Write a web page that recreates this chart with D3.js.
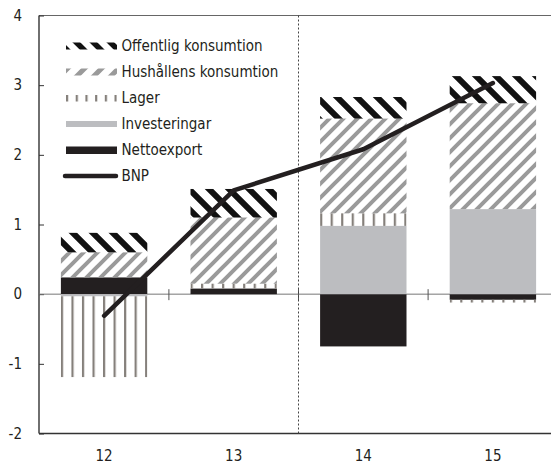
<!DOCTYPE html>
<html><head><meta charset="utf-8">
<script src="https://cdn.jsdelivr.net/npm/d3@7"></script>
<style>
html,body{margin:0;padding:0;background:#fff;}
svg{display:block;}
text{font-family:"Liberation Sans Narrow","DejaVu Sans Condensed","Arial Narrow",sans-serif;fill:#231f20;}
</style></head>
<body>
<script>
const categories = ["12","13","14","15"];
const nettoexport   = [0.24, 0.08, -0.75, -0.08];
const investeringar = [-0.03, 0.0, 0.98, 1.22];
const lager         = [-1.16, 0.07, 0.18, -0.04];
const hushallens    = [0.36, 0.95, 1.36, 1.52];
const offentlig     = [0.28, 0.41, 0.31, 0.39];
const bnp           = [-0.31, 1.49, 2.08, 3.03];
const yTicks = [-2,-1,0,1,2,3,4];
const legendLabels = ["Offentlig konsumtion","Hushållens konsumtion","Lager","Investeringar","Nettoexport","BNP"];

const W = 551, H = 464;
const svg = d3.select("body").append("svg").attr("width", W).attr("height", H);
const defs = svg.append("defs");

const x = d3.scaleBand().domain(categories).range([39.3, 557.7]).paddingInner(1/3).paddingOuter(1/6);
const y = d3.scaleLinear().domain([-2, 4]).range([433.5, 15.5]);
const bw = x.bandwidth();

// patterns
function diag(id, size, dir, color, sw){
  const p = defs.append("pattern").attr("id", id).attr("patternUnits","userSpaceOnUse")
    .attr("width", size).attr("height", size);
  let d;
  if (dir === "back") d = `M${-size/2},${-size/2} L${size*1.5},${size*1.5} M${-size/2},${size/2} L${size/2},${size*1.5} M${size/2},${-size/2} L${size*1.5},${size/2}`;
  else d = `M${-size/2},${size*1.5} L${size*1.5},${-size/2} M${-size/2},${size/2} L${size/2},${-size/2} M${size/2},${size*1.5} L${size*1.5},${size/2}`;
  p.append("path").attr("d", d).attr("stroke", color).attr("stroke-width", sw).attr("fill","none");
}
diag("pOff", 20, "back", "#111", 6);
diag("pHus", 14, "fwd", "#9a9a9a", 4);
diag("pOffL", 17, "back", "#111", 5.5);
diag("pHusL", 17, "fwd", "#9a9a9a", 5);

categories.forEach((c,i)=>{
  const per = (bw - 2.2)/8;
  const p = defs.append("pattern").attr("id","pLag"+i).attr("patternUnits","userSpaceOnUse")
    .attr("x", x(c)).attr("y", 0).attr("width", per).attr("height", 10);
  p.append("rect").attr("x",0).attr("y",0).attr("width",2.2).attr("height",10).attr("fill","#85807b");
});
{
  const p = defs.append("pattern").attr("id","pLagL").attr("patternUnits","userSpaceOnUse")
    .attr("x", 66).attr("y",0).attr("width", 9.7).attr("height", 10);
  p.append("rect").attr("x",0).attr("y",0).attr("width",2.2).attr("height",10).attr("fill","#85807b");
}

// frame
svg.append("line").attr("x1",39).attr("x2",W).attr("y1",15.5).attr("y2",15.5).attr("stroke","#666").attr("stroke-width",1.2);
svg.append("line").attr("x1",39).attr("x2",39).attr("y1",15.5).attr("y2",433.5).attr("stroke","#333").attr("stroke-width",1.4);
svg.append("line").attr("x1",39).attr("x2",W).attr("y1",433.5).attr("y2",433.5).attr("stroke","#333").attr("stroke-width",1.4);

// y axis (inward ticks)
const yAxis = d3.axisRight(y).tickValues(yTicks).tickSize(5).tickFormat("");
const yg = svg.append("g").attr("transform","translate(39,0)").call(yAxis);
yg.select(".domain").remove();
yg.selectAll(".tick line").attr("stroke","#333");
svg.append("g").selectAll("text").data(yTicks).join("text")
  .attr("x", 22).attr("y", d=>y(d)).attr("dy","0.35em").attr("text-anchor","end")
  .attr("font-size", 15).text(d=>d);

// zero line
svg.append("line").attr("x1",39).attr("x2",W).attr("y1",y(0)).attr("y2",y(0)).attr("stroke","#777").attr("stroke-width",1);

// stacked bars
const keys = ["nettoexport","investeringar","lager","hushallens","offentlig"];
const rows = categories.map((c,i)=>({cat:c, nettoexport:nettoexport[i], investeringar:investeringar[i], lager:lager[i], hushallens:hushallens[i], offentlig:offentlig[i]}));
const series = d3.stack().keys(keys).offset(d3.stackOffsetDiverging)(rows);
const fills = {
  nettoexport: ()=>"#231f20",
  investeringar: ()=>"#bcbdc0",
  lager: (i)=>`url(#pLag${i})`,
  hushallens: ()=>"url(#pHus)",
  offentlig: ()=>"url(#pOff)"
};
series.forEach(s=>{
  svg.append("g").selectAll("rect").data(s).join("rect")
    .attr("x", d=>x(d.data.cat))
    .attr("width", bw)
    .attr("y", d=>y(Math.max(d[0],d[1])))
    .attr("height", d=>Math.abs(y(d[0])-y(d[1])))
    .attr("fill", (d,i)=>fills[s.key](i));
});

// category boundary ticks on zero line
const bx = categories.slice(1).map(c=>x(c) - (x.step()-bw)/2);
svg.append("g").selectAll("line").data(bx).join("line")
  .attr("x1",d=>d).attr("x2",d=>d).attr("y1",y(0)-5).attr("y2",y(0)+6)
  .attr("stroke","#555").attr("stroke-width",1);

// dotted divider between 13 and 14
svg.append("line").attr("x1",bx[1]).attr("x2",bx[1]).attr("y1",15.5).attr("y2",433.5)
  .attr("stroke","#444").attr("stroke-width",1).attr("stroke-dasharray","2,2");

// BNP line
const line = d3.line().x((d,i)=>x(categories[i])+bw/2).y(d=>y(d));
svg.append("path").datum(bnp).attr("d", line).attr("fill","none")
  .attr("stroke","#231f20").attr("stroke-width",4.5).attr("stroke-linejoin","round").attr("stroke-linecap","round");

// x labels
svg.append("g").selectAll("text").data(categories).join("text")
  .attr("x", d=>x(d)+bw/2).attr("y", 456).attr("dy","0.35em").attr("text-anchor","middle")
  .attr("font-size", 15).text(d=>d);

// legend
const ly = d => 46 + d*26;
const lg = svg.append("g");
lg.append("rect").attr("x",66).attr("y",ly(0)-3.5).attr("width",51).attr("height",7).attr("fill","url(#pOffL)");
lg.append("rect").attr("x",66).attr("y",ly(1)-3.5).attr("width",51).attr("height",7).attr("fill","url(#pHusL)");
lg.append("rect").attr("x",66).attr("y",ly(2)-3).attr("width",51).attr("height",6.5).attr("fill","url(#pLagL)");
lg.append("rect").attr("x",66).attr("y",ly(3)-3).attr("width",51).attr("height",6).attr("fill","#bcbdc0");
lg.append("rect").attr("x",66).attr("y",ly(4)-3.5).attr("width",51).attr("height",7.5).attr("fill","#231f20");
lg.append("line").attr("x1",65).attr("x2",116).attr("y1",ly(5)).attr("y2",ly(5))
  .attr("stroke","#231f20").attr("stroke-width",4.5).attr("stroke-linecap","round");
lg.selectAll("text").data(legendLabels).join("text")
  .attr("x",121.5).attr("y",(d,i)=>ly(i)).attr("dy","0.36em").attr("font-size",15).text(d=>d);
</script>
</body></html>
